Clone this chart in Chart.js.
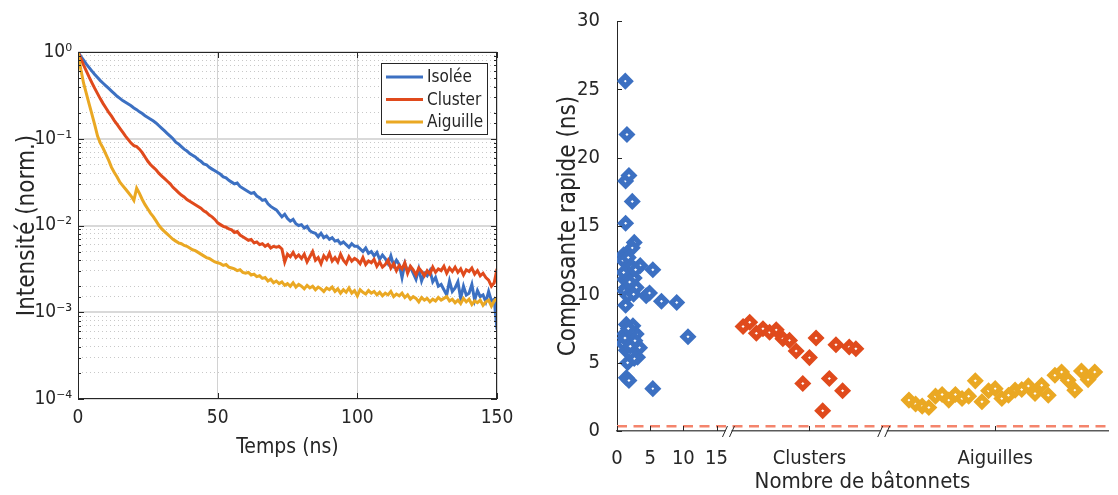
<!DOCTYPE html>
<html>
<head>
<meta charset="utf-8">
<script src="https://cdn.jsdelivr.net/npm/chart.js@4.4.1/dist/chart.umd.min.js"></script>
<style>
  html, body { margin: 0; padding: 0; background: #fff; }
  #wrap { display: flex; width: 1118px; height: 495px; }
  canvas { display: block; }
</style>
</head>
<body>
<div id="wrap">
  <canvas id="decayChart" width="540" height="495"></canvas>
  <canvas id="fastChart" width="578" height="495"></canvas>
</div>
<script>
// ---- left panel: normalised decays (log10 of intensity, every 1 ns)
const timeNs = [0,1,2,3,4,5,6,7,8,9,10,11,12,13,14,15,16,17,18,19,20,21,22,23,24,25,26,27,28,29,
  30,31,32,33,34,35,36,37,38,39,40,41,42,43,44,45,46,47,48,49,50,51,52,53,54,55,56,57,58,59,
  60,61,62,63,64,65,66,67,68,69,70,71,72,73,74,75,76,77,78,79,80,81,82,83,84,85,86,87,88,89,
  90,91,92,93,94,95,96,97,98,99,100,101,102,103,104,105,106,107,108,109,110,111,112,113,114,
  115,116,117,118,119,120,121,122,123,124,125,126,127,128,129,130,131,132,133,134,135,136,137,
  138,139,140,141,142,143,144,145,146,147,148,149,150];

const isoleeLog10 = [0,-0.05,-0.095,-0.14,-0.18,-0.22,-0.26,-0.295,-0.33,-0.36,
  -0.39,-0.42,-0.45,-0.48,-0.51,-0.535,-0.56,-0.58,-0.6,-0.62,
  -0.645,-0.665,-0.69,-0.71,-0.735,-0.755,-0.775,-0.795,-0.82,-0.85,
  -0.88,-0.91,-0.94,-0.97,-1.0,-1.04,-1.06,-1.09,-1.12,-1.14,
  -1.17,-1.19,-1.21,-1.24,-1.26,-1.29,-1.3,-1.33,-1.35,-1.37,
  -1.39,-1.41,-1.44,-1.45,-1.48,-1.5,-1.52,-1.51,-1.55,-1.57,
  -1.59,-1.61,-1.63,-1.62,-1.66,-1.68,-1.71,-1.7,-1.75,-1.78,
  -1.8,-1.82,-1.86,-1.9,-1.87,-1.92,-1.95,-1.93,-1.98,-2.0,
  -1.99,-2.03,-2.01,-2.06,-2.08,-2.09,-2.13,-2.09,-2.14,-2.12,
  -2.16,-2.14,-2.18,-2.17,-2.21,-2.19,-2.22,-2.25,-2.21,-2.24,
  -2.24,-2.27,-2.3,-2.26,-2.32,-2.3,-2.35,-2.31,-2.39,-2.34,
  -2.38,-2.44,-2.35,-2.46,-2.4,-2.45,-2.6,-2.44,-2.53,-2.48,
  -2.55,-2.62,-2.5,-2.64,-2.55,-2.58,-2.52,-2.65,-2.6,-2.7,
  -2.68,-2.74,-2.8,-2.64,-2.76,-2.72,-2.65,-2.84,-2.7,-2.8,
  -2.78,-2.68,-2.86,-2.75,-2.82,-2.8,-2.88,-2.76,-2.87,-2.85,
  -3.2];

const clusterLog10 = [0,-0.075,-0.15,-0.22,-0.29,-0.355,-0.42,-0.48,-0.54,-0.595,
  -0.645,-0.695,-0.74,-0.79,-0.835,-0.88,-0.925,-0.97,-1.01,-1.05,
  -1.08,-1.09,-1.12,-1.16,-1.21,-1.26,-1.3,-1.33,-1.36,-1.4,
  -1.43,-1.46,-1.49,-1.52,-1.56,-1.59,-1.62,-1.65,-1.67,-1.7,
  -1.72,-1.74,-1.76,-1.78,-1.8,-1.83,-1.85,-1.88,-1.9,-1.93,
  -1.97,-1.99,-2.01,-2.02,-2.04,-2.05,-2.08,-2.07,-2.11,-2.13,
  -2.15,-2.17,-2.16,-2.2,-2.19,-2.22,-2.21,-2.24,-2.22,-2.26,
  -2.24,-2.25,-2.24,-2.27,-2.42,-2.33,-2.36,-2.31,-2.37,-2.34,
  -2.38,-2.33,-2.42,-2.36,-2.3,-2.4,-2.37,-2.44,-2.35,-2.39,
  -2.32,-2.41,-2.37,-2.42,-2.33,-2.4,-2.44,-2.36,-2.41,-2.38,
  -2.4,-2.44,-2.37,-2.45,-2.41,-2.43,-2.39,-2.47,-2.42,-2.48,
  -2.45,-2.4,-2.49,-2.44,-2.52,-2.46,-2.5,-2.43,-2.55,-2.47,
  -2.51,-2.57,-2.49,-2.53,-2.58,-2.52,-2.56,-2.48,-2.54,-2.5,
  -2.52,-2.47,-2.55,-2.49,-2.53,-2.48,-2.54,-2.5,-2.57,-2.51,
  -2.53,-2.49,-2.56,-2.52,-2.58,-2.55,-2.6,-2.63,-2.7,-2.66,
  -2.5];

const aiguilleLog10 = [0,-0.2,-0.36,-0.48,-0.6,-0.72,-0.84,-0.97,-1.05,-1.11,
  -1.18,-1.25,-1.33,-1.39,-1.44,-1.5,-1.54,-1.58,-1.62,-1.66,
  -1.71,-1.57,-1.63,-1.7,-1.76,-1.81,-1.86,-1.9,-1.95,-2.0,
  -2.04,-2.07,-2.1,-2.13,-2.16,-2.18,-2.2,-2.21,-2.23,-2.24,
  -2.26,-2.28,-2.29,-2.31,-2.33,-2.35,-2.37,-2.38,-2.4,-2.42,
  -2.43,-2.44,-2.46,-2.45,-2.48,-2.49,-2.5,-2.52,-2.51,-2.54,
  -2.55,-2.54,-2.57,-2.56,-2.59,-2.58,-2.61,-2.6,-2.64,-2.62,
  -2.66,-2.64,-2.67,-2.65,-2.69,-2.67,-2.7,-2.66,-2.71,-2.68,
  -2.7,-2.73,-2.69,-2.72,-2.7,-2.74,-2.71,-2.73,-2.76,-2.72,
  -2.74,-2.71,-2.76,-2.73,-2.78,-2.74,-2.77,-2.72,-2.78,-2.75,
  -2.81,-2.74,-2.77,-2.79,-2.75,-2.78,-2.76,-2.8,-2.77,-2.81,
  -2.78,-2.8,-2.76,-2.82,-2.79,-2.81,-2.78,-2.83,-2.8,-2.85,
  -2.82,-2.84,-2.88,-2.83,-2.86,-2.84,-2.88,-2.85,-2.87,-2.83,
  -2.86,-2.84,-2.82,-2.87,-2.85,-2.89,-2.86,-2.9,-2.84,-2.88,
  -2.85,-2.91,-2.87,-2.89,-2.86,-2.92,-2.88,-2.86,-2.93,-2.87,
  -2.84];

// ---- right panel: fast component per object
const isoleeX = [1.25,1.5,1.3,1.8,2.3,1.3,2.6,2.3,1.0,0.9,3.5,5.4,1.9,1.15,2.1,2.6,1.4,2.4,1.15,1.6,
  2.9,1.3,4.4,4.9,6.7,9.0,10.7,5.4,1.4,2.4,1.15,2.9,0.9,1.9,3.4,1.4,2.4,3.1,1.6,2.6,
  2.0,1.4,1.8,1.7,2.2,1.0,2.8,1.9,2.5,1.2,2.7,2.2,1.7,2.0];
const isoleeY = [25.6,21.7,18.3,18.7,16.8,15.2,13.8,13.4,12.9,12.5,12.1,11.8,12.2,11.1,11.5,11.2,10.5,10.5,10.25,9.9,
  10.5,9.2,9.9,10.1,9.5,9.4,6.9,3.1,7.8,7.7,7.1,7.1,6.4,6.5,6.1,5.9,5.8,5.4,5.0,5.3,
  5.7,3.9,3.7,12.7,12.0,11.6,11.8,10.9,10.0,6.8,6.6,7.3,7.5,6.2];
const clusterX = [19,20,21,22,23,24,25,26,27,28,29,30,31,32,33,34,35,36];
const clusterY = [7.65,7.96,7.16,7.48,7.23,7.4,6.75,6.63,5.85,3.47,5.37,6.8,1.48,3.84,6.31,2.94,6.14,6.02];
const aiguilleX = [44,45,46,47,48,49,50,51,52,53,54,55,56,57,58,59,60,61,62,63,64,65,66,67,68,69,70,71,72];
const aiguilleY = [2.26,1.97,1.82,1.72,2.55,2.67,2.26,2.67,2.38,2.55,3.67,2.14,2.94,3.1,2.38,2.62,2.99,3.04,3.3,2.74,
  3.35,2.62,4.08,4.32,3.71,2.99,4.39,3.76,4.32];
const thresholdX = [0, 74];
const thresholdY = 0.35;

const xTickValues = [0, 5, 10, 15, 29, 57];
const xTickLabels = ['0', '5', '10', '15', 'Clusters', 'Aiguilles'];
const axisBreaks = [16.8, 40.2];

const BLUE = '#3c70c2';
const RED = '#e04a1c';
const YELLOW = '#eaa823';
const INK = '#262626';
const FONT = "'DejaVu Sans Condensed', 'Liberation Sans', sans-serif";

Chart.defaults.font.family = FONT;
Chart.defaults.color = INK;

const SUP = { '-': '\u207B', '0': '\u2070', '1': '\u00B9', '2': '\u00B2', '3': '\u00B3', '4': '\u2074' };
function isDecade(v) {
  const e = Math.log10(v);
  return Math.abs(e - Math.round(e)) < 1e-9;
}
function decadeLabel(v) {
  const e = String(Math.round(Math.log10(v)));
  return '10' + e.split('').map(ch => SUP[ch]).join('');
}

// box, inward ticks and legend, matlab style
const decayFrame = {
  id: 'decayFrame',
  afterDraw(chart) {
    const { ctx, chartArea: a, scales: { x, y } } = chart;
    ctx.save();
    ctx.strokeStyle = INK;
    ctx.lineWidth = 1;
    ctx.beginPath();
    y.ticks.forEach(t => {
      const py = Math.round(y.getPixelForValue(t.value)) + 0.5;
      const len = isDecade(t.value) ? 6 : 3;
      ctx.moveTo(a.left, py); ctx.lineTo(a.left + len, py);
      ctx.moveTo(a.right, py); ctx.lineTo(a.right - len, py);
    });
    x.ticks.forEach(t => {
      const px = Math.round(x.getPixelForValue(t.value)) + 0.5;
      ctx.moveTo(px, a.bottom); ctx.lineTo(px, a.bottom - 6);
      ctx.moveTo(px, a.top); ctx.lineTo(px, a.top + 6);
    });
    ctx.stroke();
    ctx.strokeRect(Math.round(a.left) + 0.5, Math.round(a.top) + 0.5,
      Math.round(a.right - a.left) - 1, Math.round(a.bottom - a.top) - 1);

    const bw = 106, bh = 71;
    const bx = Math.round(a.right) - 10 - bw, by = Math.round(a.top) + 11;
    ctx.fillStyle = '#fff';
    ctx.fillRect(bx, by, bw, bh);
    ctx.strokeRect(bx + 0.5, by + 0.5, bw, bh);
    ctx.font = '17px ' + FONT;
    ctx.textBaseline = 'middle';
    ctx.textAlign = 'left';
    chart.data.datasets.forEach((ds, i) => {
      const ry = by + 14 + i * 22.5;
      ctx.strokeStyle = ds.borderColor;
      ctx.lineWidth = 3;
      ctx.beginPath();
      ctx.moveTo(bx + 5, ry);
      ctx.lineTo(bx + 42, ry);
      ctx.stroke();
      ctx.fillStyle = INK;
      ctx.fillText(ds.label, bx + 46, ry + 1);
    });
    ctx.restore();
  }
};

const fastFrame = {
  id: 'fastFrame',
  afterDraw(chart) {
    const { ctx, chartArea: a, scales: { x, y } } = chart;
    ctx.save();
    ctx.strokeStyle = INK;
    ctx.lineWidth = 1;
    ctx.beginPath();
    y.ticks.forEach(t => {
      const py = Math.round(y.getPixelForValue(t.value)) + 0.5;
      ctx.moveTo(a.left, py); ctx.lineTo(a.left + 5, py);
    });
    x.ticks.forEach(t => {
      const px = Math.round(x.getPixelForValue(t.value)) + 0.5;
      ctx.moveTo(px, a.bottom); ctx.lineTo(px, a.bottom - 5);
    });
    ctx.stroke();
    axisBreaks.forEach(v => {
      const px = x.getPixelForValue(v);
      ctx.fillStyle = '#fff';
      ctx.fillRect(px - 3, a.bottom - 2, 6, 5);
      ctx.strokeStyle = INK;
      ctx.beginPath();
      ctx.moveTo(px - 6, a.bottom + 6); ctx.lineTo(px - 1, a.bottom - 5);
      ctx.moveTo(px + 1, a.bottom + 6); ctx.lineTo(px + 6, a.bottom - 5);
      ctx.stroke();
    });
    ctx.restore();
  }
};

new Chart(document.getElementById('decayChart').getContext('2d'), {
  type: 'line',
  data: {
    datasets: [
      { label: 'Isolée', data: timeNs.map((t, i) => ({ x: t, y: 10 ** isoleeLog10[i] })), borderColor: BLUE, order: 3 },
      { label: 'Cluster', data: timeNs.map((t, i) => ({ x: t, y: 10 ** clusterLog10[i] })), borderColor: RED, order: 2 },
      { label: 'Aiguille', data: timeNs.map((t, i) => ({ x: t, y: 10 ** aiguilleLog10[i] })), borderColor: YELLOW, order: 1 }
    ]
  },
  options: {
    responsive: false,
    animation: false,
    events: [],
    datasets: { line: { borderWidth: 3, pointRadius: 0, tension: 0, fill: false } },
    layout: { padding: { top: 52, right: 43, bottom: 0, left: 0 } },
    plugins: { legend: { display: false }, tooltip: { enabled: false } },
    scales: {
      x: {
        type: 'linear', min: 0, max: 150,
        ticks: { stepSize: 50, padding: 8, color: INK, font: { size: 19 }, maxRotation: 0 },
        grid: { color: '#d2d2d2', lineWidth: 1, drawTicks: false },
        border: { display: false },
        title: { display: true, text: 'Temps (ns)', color: INK, font: { size: 21 }, padding: { top: 0, bottom: 35 } },
        afterFit: s => { s.height = 96; }
      },
      y: {
        type: 'logarithmic', min: 1e-4, max: 1,
        ticks: { autoSkip: false, padding: 6, color: INK, font: { size: 19 },
          callback: v => isDecade(v) ? decadeLabel(v) : '' },
        grid: {
          drawTicks: false,
          color: c => isDecade(c.tick.value) ? '#d9d9d9' : '#c8c8c8',
          lineWidth: c => isDecade(c.tick.value) ? 2 : 1
        },
        border: { display: false, dash: c => (c.tick && !isDecade(c.tick.value)) ? [1, 3] : [] },
        title: { display: true, text: 'Intensité (norm.)', color: INK, font: { size: 24 }, padding: { top: 13, bottom: 0 } },
        afterFit: s => { s.width = 78; }
      }
    }
  },
  plugins: [decayFrame]
});

new Chart(document.getElementById('fastChart').getContext('2d'), {
  type: 'scatter',
  data: {
    datasets: [
      { label: 'Isolée', data: isoleeX.map((x, i) => ({ x, y: isoleeY[i] })), pointBorderColor: BLUE },
      { label: 'Clusters', data: clusterX.map((x, i) => ({ x, y: clusterY[i] })), pointBorderColor: RED },
      { label: 'Aiguilles', data: aiguilleX.map((x, i) => ({ x, y: aiguilleY[i] })), pointBorderColor: YELLOW },
      { label: 'seuil', data: thresholdX.map(x => ({ x, y: thresholdY })), showLine: true,
        borderColor: '#f4846c', borderWidth: 2.5, borderDash: [10, 6.5], pointRadius: 0 }
    ]
  },
  options: {
    responsive: false,
    animation: false,
    events: [],
    datasets: { scatter: { pointStyle: 'rectRot', pointRadius: 5, pointBorderWidth: 5, pointBackgroundColor: '#fff' } },
    layout: { padding: { top: 19, right: 5, bottom: 0, left: 0 } },
    plugins: { legend: { display: false }, tooltip: { enabled: false } },
    scales: {
      x: {
        type: 'linear', min: 0, max: 74,
        afterBuildTicks: s => { s.ticks = xTickValues.map(v => ({ value: v })); },
        ticks: { autoSkip: false, maxRotation: 0, padding: 8, color: INK, font: { size: 20 },
          callback: v => { const i = xTickValues.indexOf(v); return i < 0 ? '' : xTickLabels[i]; } },
        grid: { display: false },
        border: { color: '#5a5a5a', width: 1.5 },
        title: { display: true, text: 'Nombre de bâtonnets', color: INK, font: { size: 22 }, padding: { top: 0, bottom: 0 } },
        afterFit: s => { s.height = 64; }
      },
      y: {
        min: 0, max: 30,
        ticks: { stepSize: 5, padding: 9, color: INK, font: { size: 20 } },
        grid: { display: false },
        border: { color: INK, width: 1 },
        title: { display: true, text: 'Composante rapide (ns)', color: INK, font: { size: 24 }, padding: { top: 14, bottom: 0 } },
        afterFit: s => { s.width = 77; }
      }
    }
  },
  plugins: [fastFrame]
});
</script>
</body>
</html>
